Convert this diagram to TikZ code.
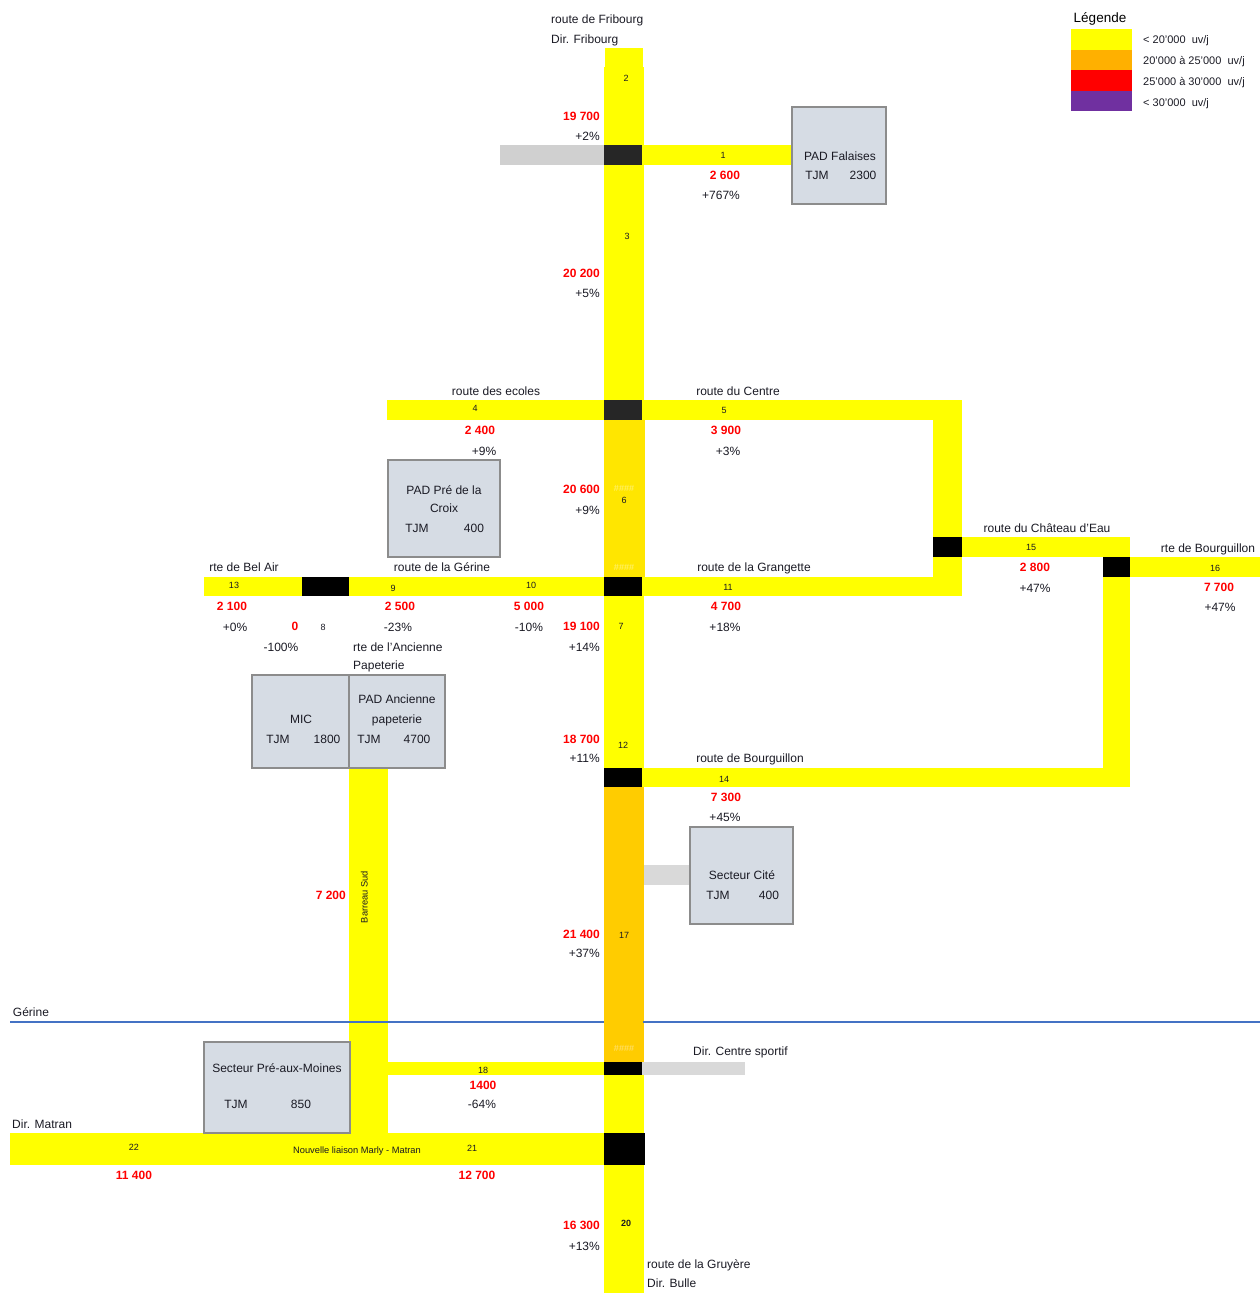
\documentclass[tikz,border=0pt]{standalone}
\usepackage{fontspec}
\setmainfont{Liberation Sans}
\definecolor{ryel}{HTML}{FFFF00}
\definecolor{rgold}{HTML}{FFE600}
\definecolor{rorange}{HTML}{FFCC00}
\definecolor{legor}{HTML}{FFB000}
\definecolor{legpur}{HTML}{7030A0}
\definecolor{junc}{HTML}{262626}
\definecolor{gconn}{HTML}{D9D9D9}
\definecolor{gconnb}{HTML}{D0D0D0}
\definecolor{boxfill}{HTML}{D6DCE4}
\definecolor{boxline}{HTML}{8C8C8C}
\definecolor{gline}{HTML}{4472C4}
\definecolor{txt}{HTML}{1A1A24}
\definecolor{hashy}{HTML}{FFF27A}
\definecolor{hasho}{HTML}{FFE27A}
\tikzset{
  base/.style={inner sep=0pt, text height=0.72em, text depth=0pt, text=txt},
  lbl/.style={base, font=\fontsize{12}{14}\selectfont},
  val/.style={base, font=\bfseries\fontsize{12}{14}\selectfont, text=red},
  pct/.style={base, font=\fontsize{12}{14}\selectfont},
  idx/.style={base, font=\fontsize{9}{10}\selectfont},
  hashes/.style={base, font=\fontsize{9}{10}\selectfont},
  small/.style={base, font=\fontsize{9.3}{10}\selectfont},
  leg/.style={base, font=\fontsize{11}{12}\selectfont, anchor=west},
  road/.style={fill=ryel},
  blk/.style={fill=black},
  bx/.style={fill=boxfill, draw=boxline, line width=1.3pt},
}
\begin{document}
\begin{tikzpicture}[x=1pt,y=-1pt]
\useasboundingbox (0,0) rectangle (1260,1293);
% ---------- main column ----------
\fill[road] (605,48) rectangle (643,67);
\fill[road] (604,67) rectangle (644,145);
\fill[junc] (604,145) rectangle (642,165);
\fill[road] (604,165) rectangle (644,400);
\fill[junc] (604,400) rectangle (642,420);
\fill[rgold] (604,420) rectangle (645,577);
\fill[blk] (604,577) rectangle (642,596);
\fill[road] (604,596) rectangle (644,768);
\fill[blk] (604,768) rectangle (642,787);
\fill[rorange] (604,787) rectangle (644,1062);
\fill[blk] (604,1062) rectangle (642,1075);
\fill[road] (604,1075) rectangle (644,1133);
\fill[blk] (604,1133) rectangle (645,1165);
\fill[road] (604,1165) rectangle (644,1293);
% ---------- roads ----------
\fill[gconnb] (500,145) rectangle (604,165);
\fill[road] (642,145) rectangle (791,165);
\fill[road] (387,400) rectangle (604,420);
\fill[road] (642,400) rectangle (962,420);
\fill[road] (933,420) rectangle (962,537);
\fill[blk] (933,537) rectangle (962,557);
\fill[road] (933,557) rectangle (962,596);
\fill[road] (642,577) rectangle (933,596);
\fill[road] (962,537) rectangle (1130,557);
\fill[blk] (1103,557) rectangle (1130,577);
\fill[road] (1130,557) rectangle (1260,577);
\fill[road] (1103,577) rectangle (1130,768);
\fill[road] (642,768) rectangle (1130,787);
\fill[road] (204,577) rectangle (302,596);
\fill[blk] (302,577) rectangle (349,596);
\fill[road] (349,577) rectangle (604,596);
\fill[road] (349,768) rectangle (388,1133);
\fill[road] (388,1062) rectangle (604,1075);
\fill[gconn] (642,1062) rectangle (745,1075);
\fill[road] (10,1133) rectangle (604,1165);
\fill[gconn] (644,865) rectangle (690,885);
% ---------- Gerine line ----------
\coordinate (gl1) at (10,1022);
\coordinate (gl2) at (604,1022);
\coordinate (gl3) at (643,1022);
\coordinate (gl4) at (1260,1022);
\draw[gline, line width=2.2pt] (gl1) -- (gl2);
\draw[gline, line width=2.2pt] (gl3) -- (gl4);
% ---------- boxes ----------
\draw[bx] (792,107) rectangle (886,204);
\draw[bx] (388,460) rectangle (500,557);
\draw[bx] (252,675) rectangle (349,768);
\draw[bx] (349,675) rectangle (445,768);
\draw[bx] (690,827) rectangle (793,924);
\draw[bx] (204,1042) rectangle (350,1133);
% ---------- legend ----------
\fill[ryel] (1071,29) rectangle (1132,50);
\fill[legor] (1071,50) rectangle (1132,70);
\fill[red] (1071,70) rectangle (1132,91);
\fill[legpur] (1071,91) rectangle (1132,111);
\node[base, font=\fontsize{13.5}{15}\selectfont, text=black] (lgT) at (1100,19) {Légende};
\node[leg] (lg1) at (1143,40) {< 20'000~ uv/j};
\node[leg] (lg2) at (1143,61) {20'000 à 25'000~ uv/j};
\node[leg] (lg3) at (1143,82) {25'000 à 30'000~ uv/j};
\node[leg] (lg4) at (1143,103) {< 30'000~ uv/j};
% ---------- top ----------
\node[lbl, anchor=west] (tf1) at (551,20) {route de Fribourg};
\node[lbl, anchor=west] (tf2) at (551,40) {Dir. Fribourg};
\node[idx] (i2) at (626,78) {2};
\node[val, anchor=east] (v2) at (600,117) {19 700};
\node[pct, anchor=east] (p2) at (600,137) {+2\%};
\node[idx] (i1) at (723,155) {1};
\node[val] (v1) at (725,176) {2 600};
\node[pct] (p1) at (721,196) {+767\%};
\node[lbl] (bf1) at (840,157) {PAD Falaises};
\node[lbl] (bf2) at (817,176) {TJM};
\node[lbl] (bf3) at (863,176) {2300};
\node[idx] (i3) at (627,236) {3};
\node[val, anchor=east] (v3) at (600,274) {20 200};
\node[pct, anchor=east] (p3) at (600,294) {+5\%};
% ---------- route des ecoles / centre ----------
\node[lbl] (r4) at (496,392) {route des ecoles};
\node[idx] (i4) at (475,408) {4};
\node[val] (v4) at (480,431) {2 400};
\node[pct] (p4) at (484,452) {+9\%};
\node[lbl] (r5) at (738,392) {route du Centre};
\node[idx] (i5) at (724,410) {5};
\node[val] (v5) at (726,431) {3 900};
\node[pct] (p5) at (728,452) {+3\%};
\node[lbl] (bp1) at (444,491) {PAD Pré de la};
\node[lbl] (bp2) at (444,509) {Croix};
\node[lbl] (bp3) at (417,529) {TJM};
\node[lbl] (bp4) at (474,529) {400};
\node[val, anchor=east] (v6) at (600,490) {20 600};
\node[pct, anchor=east] (p6) at (600,511) {+9\%};
\node[hashes, text=hashy] (h1) at (624,488) {\#\#\#\#};
\node[idx] (i6) at (624,500) {6};
\node[hashes, text=hashy] (h2) at (624,567) {\#\#\#\#};
% ---------- right branch ----------
\node[lbl] (r15) at (1047,529) {route du Château d'Eau};
\node[idx] (i15) at (1031,547) {15};
\node[val] (v15) at (1035,568) {2 800};
\node[pct] (p15) at (1035,589) {+47\%};
\node[lbl] (r16) at (1208,549) {rte de Bourguillon};
\node[idx] (i16) at (1215,568) {16};
\node[val] (v16) at (1219,588) {7 700};
\node[pct] (p16) at (1220,608) {+47\%};
\node[lbl] (r11) at (754,568) {route de la Grangette};
\node[idx] (i11) at (728,587) {11};
\node[val] (v11) at (726,607) {4 700};
\node[pct] (p11) at (725,628) {+18\%};
% ---------- left branch ----------
\node[lbl] (r13) at (244,568) {rte de Bel Air};
\node[idx] (i13) at (234,585) {13};
\node[val] (v13) at (232,607) {2 100};
\node[pct] (p13) at (235,628) {+0\%};
\node[val] (v8) at (295,627) {0};
\node[idx] (i8) at (323,627) {8};
\node[pct] (p8) at (281,648) {-100\%};
\node[lbl] (r9) at (442,568) {route de la Gérine};
\node[idx] (i9) at (393,588) {9};
\node[idx] (i10) at (531,585) {10};
\node[val] (v9) at (400,607) {2 500};
\node[pct] (p9) at (398,628) {-23\%};
\node[val] (v10) at (529,607) {5 000};
\node[pct] (p10) at (529,628) {-10\%};
\node[val, anchor=east] (v7) at (600,627) {19 100};
\node[pct, anchor=east] (p7) at (600,648) {+14\%};
\node[idx] (i7) at (621,626) {7};
\node[lbl, anchor=west] (ra1) at (353,648) {rte de l'Ancienne};
\node[lbl, anchor=west] (ra2) at (353,666) {Papeterie};
\node[lbl] (bm1) at (301,720) {MIC};
\node[lbl] (bm2) at (278,740) {TJM};
\node[lbl] (bm3) at (327,740) {1800};
\node[lbl] (ba1) at (397,700) {PAD Ancienne};
\node[lbl] (ba2) at (397,720) {papeterie};
\node[lbl] (ba3) at (369,740) {TJM};
\node[lbl] (ba4) at (417,740) {4700};
\node[val, anchor=east] (v12) at (600,740) {18 700};
\node[pct, anchor=east] (p12) at (600,759) {+11\%};
\node[idx] (i12) at (623,745) {12};
% ---------- Bourguillon / Cite ----------
\node[lbl] (r14) at (750,759) {route de Bourguillon};
\node[idx] (i14) at (724,779) {14};
\node[val] (v14) at (726,798) {7 300};
\node[pct] (p14) at (725,818) {+45\%};
\node[lbl] (bc1) at (742,876) {Secteur Cité};
\node[lbl] (bc2) at (718,896) {TJM};
\node[lbl] (bc3) at (769,896) {400};
\node[val, anchor=east] (vb) at (346,896) {7 200};
\node[small, rotate=90] (rb) at (364,897) {Barreau Sud};
\node[val, anchor=east] (v17) at (600,935) {21 400};
\node[pct, anchor=east] (p17) at (600,954) {+37\%};
\node[idx] (i17) at (624,935) {17};
% ---------- bottom ----------
\node[lbl] (gr) at (31,1013) {Gérine};
\node[hashes, text=hasho] (h3) at (624,1048) {\#\#\#\#};
\node[lbl, anchor=west] (dcs) at (693,1052) {Dir. Centre sportif};
\node[lbl] (bs1) at (277,1069) {Secteur Pré-aux-Moines};
\node[lbl] (bs2) at (236,1105) {TJM};
\node[lbl] (bs3) at (301,1105) {850};
\node[idx] (i18) at (483,1070) {18};
\node[val] (v18) at (483,1086) {1400};
\node[pct] (p18) at (482,1105) {-64\%};
\node[lbl, anchor=west] (dm) at (12,1125) {Dir. Matran};
\node[idx] (i22) at (134,1147) {22};
\node[small] (nl) at (357,1150) {Nouvelle liaison Marly - Matran};
\node[idx] (i21) at (472,1148) {21};
\node[val] (v22) at (134,1176) {11 400};
\node[val] (v21) at (477,1176) {12 700};
\node[val, anchor=east] (v20) at (600,1226) {16 300};
\node[pct, anchor=east] (p20) at (600,1247) {+13\%};
\node[idx, font=\bfseries\fontsize{9}{10}\selectfont] (i20) at (626,1223) {20};
\node[lbl, anchor=west] (rg1) at (647,1265) {route de la Gruyère};
\node[lbl, anchor=west] (rg2) at (647,1284) {Dir. Bulle};
\end{tikzpicture}
\end{document}
